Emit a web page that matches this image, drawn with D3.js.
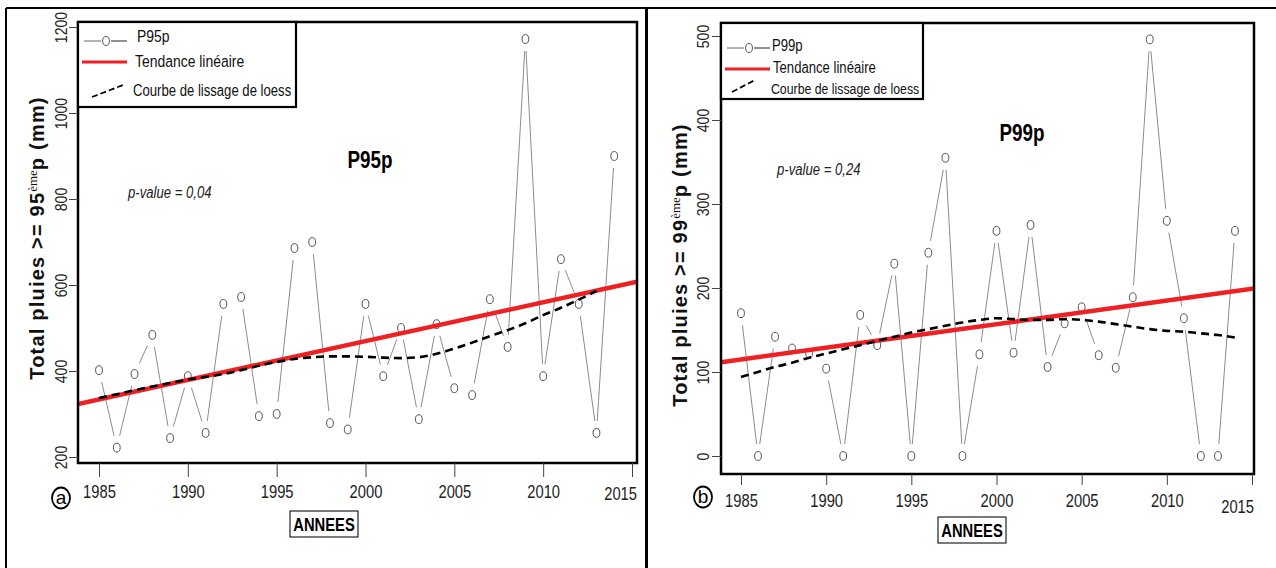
<!DOCTYPE html>
<html>
<head>
<meta charset="utf-8">
<script src="https://cdn.jsdelivr.net/npm/d3@7"></script>
<style>
  body { margin: 0; background: #fff; }
  svg { display: block; }
</style>
</head>
<body>
<svg id="chart" width="1276" height="568"></svg>
<script>
// annees 1985-2014
const years = [1985, 1986, 1987, 1988, 1989, 1990, 1991, 1992, 1993, 1994,
               1995, 1996, 1997, 1998, 1999, 2000, 2001, 2002, 2003, 2004,
               2005, 2006, 2007, 2008, 2009, 2010, 2011, 2012, 2013, 2014];

// total pluies >= 95eme percentile (mm)
const p95 = [402, 222, 393, 484, 244, 388, 256, 556, 572, 295,
             300, 686, 700, 279, 264, 556, 388, 500, 288, 509,
             360, 344, 567, 456, 1172, 388, 660, 556, 256, 900];

// total pluies >= 99eme percentile (mm)
const p99 = [170, 0, 142, 128, 122, 104, 0, 168, 132, 229,
             0, 242, 355, 0, 121, 268, 123, 275, 106, 158,
             177, 120, 105, 189, 496, 280, 164, 0, 0, 268];

// courbes loess (1985-2013 pour P95p, 1985-2014 pour P99p)
const loessP95 = [337, 346, 355, 364, 372, 380, 386, 393, 402, 412,
                  421, 428, 432, 434, 434, 433, 431, 430, 432, 440,
                  452, 466, 481, 495, 511, 530, 547, 566, 586];
const loessP99 = [94, 100, 106, 111, 117, 122, 127, 132, 137, 142,
                  147, 151, 155, 159, 162, 164, 163, 162, 162, 163,
                  162, 160, 157, 154, 151, 149, 148, 146, 144, 141];

// tendance lineaire, valeurs en 1985 et 2015
const trendYears = [1985, 2015];
const trendP95 = [334, 605];
const trendP99 = [115, 199];

const xTicks = [1985, 1990, 1995, 2000, 2005, 2010, 2015];
const yTicksP95 = [200, 400, 600, 800, 1000, 1200];
const yTicksP99 = [0, 100, 200, 300, 400, 500];

const svg = d3.select("#chart");
const sans = "'Liberation Sans',Arial,sans-serif";
const NARROW = 0.82; // pas de police etroite installee : on compresse

// texte "etroit" facon Arial Narrow
function narrowText(g, x, y, txt, size) {
    return g.append("text")
        .attr("transform", `translate(${x},${y}) scale(${NARROW},1)`)
        .style("font-family", sans)
        .style("font-size", size + "px")
        .text(txt);
}

// cadre general
svg.append("line").attr("x1", 6).attr("x2", 1276).attr("y1", 8).attr("y2", 8)
    .attr("stroke", "#000").attr("stroke-width", 2);
svg.append("line").attr("x1", 6).attr("x2", 6).attr("y1", 8).attr("y2", 568)
    .attr("stroke", "#000").attr("stroke-width", 2);
svg.append("line").attr("x1", 646.5).attr("x2", 646.5).attr("y1", 8).attr("y2", 568)
    .attr("stroke", "#000").attr("stroke-width", 3);

function drawPanel(p) {
    const x = d3.scaleLinear().domain([1985, 2015]).range(p.xRange);
    const y = d3.scaleLinear().domain(p.yDomain).range(p.yRange);
    const [bx0, by0, bx1, by1] = p.box;
    const g = svg.append("g");

    svg.append("clipPath").attr("id", "clip-" + p.id)
        .append("rect").attr("x", bx0).attr("y", by0)
        .attr("width", bx1 - bx0).attr("height", by1 - by0);

    // serie : lignes avec trous autour des points (type "b")
    const pts = p.values.map((v, i) => [x(years[i]), y(v)]);
    const gap = 12;
    const segs = [];
    for (let i = 1; i < pts.length; i++) {
        const [x1, y1] = pts[i - 1], [x2, y2] = pts[i];
        const len = Math.hypot(x2 - x1, y2 - y1);
        if (len <= 2 * gap) continue;
        const ux = (x2 - x1) / len, uy = (y2 - y1) / len;
        segs.push([x1 + ux * gap, y1 + uy * gap, x2 - ux * gap, y2 - uy * gap]);
    }
    g.selectAll(".seg")
        .data(segs)
        .enter()
        .append("line")
        .attr("x1", d => d[0]).attr("y1", d => d[1])
        .attr("x2", d => d[2]).attr("y2", d => d[3])
        .attr("stroke", "#8c8c8c")
        .attr("stroke-width", 1);

    g.selectAll(".pt")
        .data(pts)
        .enter()
        .append("ellipse")
        .attr("cx", d => d[0]).attr("cy", d => d[1])
        .attr("rx", 3.4).attr("ry", 4.4)
        .attr("fill", "#fff")
        .attr("stroke", "#555")
        .attr("stroke-width", 1);

    // tendance lineaire
    const trend = d3.scaleLinear().domain(trendYears).range(p.trend);
    const ta = x.invert(bx0), tb = x.invert(bx1);
    g.append("line")
        .attr("clip-path", `url(#clip-${p.id})`)
        .attr("x1", x(ta)).attr("y1", y(trend(ta)))
        .attr("x2", x(tb)).attr("y2", y(trend(tb)))
        .attr("stroke", "#ee2024")
        .attr("stroke-width", 4.5);

    // courbe loess
    g.append("path")
        .datum(p.loess.map((v, i) => [years[i], v]))
        .attr("d", d3.line().x(d => x(d[0])).y(d => y(d[1])).curve(d3.curveMonotoneX))
        .attr("fill", "none")
        .attr("stroke", "#000")
        .attr("stroke-width", 2.6)
        .attr("stroke-dasharray", "8,5");

    // boite
    g.append("rect")
        .attr("x", bx0).attr("y", by0)
        .attr("width", bx1 - bx0).attr("height", by1 - by0)
        .attr("fill", "none").attr("stroke", "#000").attr("stroke-width", 2.5);

    // axe x
    const xa = g.append("g")
        .attr("transform", `translate(0,${by1})`)
        .call(d3.axisBottom(x).tickValues(xTicks).tickSize(p.xTickLen).tickSizeOuter(0).tickFormat(d3.format("d")));
    xa.select(".domain").remove();
    xa.selectAll("line").attr("stroke", "#444");
    xa.selectAll("text")
        .attr("y", p.xLabelBase - by1).attr("dy", 0)
        .attr("transform", `scale(${NARROW},1)`)
        .attr("fill", "#222")
        .style("font-family", sans).style("font-size", "18px");
    // le dernier libelle est cale sur le bord droit
    xa.selectAll("text").filter(d => d === 2015)
        .attr("text-anchor", "end")
        .attr("x", p.lastLabel[0] / NARROW)
        .attr("y", p.xLabelBase - by1 + p.lastLabel[1]);

    // axe y
    const ya = g.append("g")
        .attr("transform", `translate(${bx0},0)`)
        .call(d3.axisLeft(y).tickValues(p.yTicks).tickSize(9).tickSizeOuter(0).tickFormat(d3.format("d")));
    ya.select(".domain").remove();
    ya.selectAll("line").attr("stroke", "#444");
    ya.selectAll("text")
        .attr("transform", "rotate(-90) scale(0.88,1)")
        .attr("x", 0).attr("y", -p.yLabelOff).attr("dy", 0)
        .attr("text-anchor", "middle")
        .attr("fill", "#222")
        .style("font-family", sans).style("font-size", "16px");

    // titre axe y
    const yt = g.append("text")
        .attr("transform", `translate(${p.yTitle[0]},${p.yTitle[1]}) rotate(-90)`)
        .attr("text-anchor", "middle")
        .attr("fill", "#111")
        .style("font-family", sans).style("font-size", "20px").style("font-weight", "bold")
        .style("letter-spacing", "1.2px");
    yt.append("tspan").text("Total pluies >= " + p.pct);
    yt.append("tspan").attr("dy", -7)
        .style("font-family", "'Liberation Serif','DejaVu Serif',serif")
        .style("font-weight", "normal").style("font-size", "13px")
        .style("letter-spacing", "0px").text("ème");
    yt.append("tspan").attr("dy", 7).text("p (mm)");

    // lettre entouree
    g.append("ellipse")
        .attr("cx", p.letterPos[0]).attr("cy", p.letterPos[1])
        .attr("rx", 9).attr("ry", 10.5)
        .attr("fill", "none").attr("stroke", "#000").attr("stroke-width", 1.8);
    g.append("text")
        .attr("x", p.letterPos[0]).attr("y", p.letterPos[1] + 6)
        .attr("text-anchor", "middle")
        .style("font-family", sans).style("font-size", "19px")
        .text(p.letter);

    // ANNEES
    const [ax, ay] = p.anneesPos;
    g.append("rect")
        .attr("x", ax).attr("y", ay).attr("width", 68).attr("height", 26)
        .attr("fill", "#fff").attr("stroke", "#222").attr("stroke-width", 1.2);
    narrowText(g, ax + 34, ay + 20, "ANNEES", 18)
        .attr("text-anchor", "middle")
        .style("font-weight", "bold");

    // titre et p-value
    narrowText(g, p.titlePos[0], p.titlePos[1], p.name, 23)
        .attr("text-anchor", "middle")
        .style("font-weight", "bold");
    narrowText(g, p.pvalPos[0], p.pvalPos[1], p.pval, 16)
        .attr("fill", "#222")
        .style("font-style", "italic");

    // legende
    const L = p.legend;
    g.append("rect")
        .attr("x", bx0).attr("y", by0).attr("width", L.w).attr("height", L.h)
        .attr("fill", "#fff").attr("stroke", "#000").attr("stroke-width", 2.2);
    const lx = bx0;
    g.append("line").attr("x1", lx + 6).attr("x2", lx + 23).attr("y1", L.y1).attr("y2", L.y1)
        .attr("stroke", "#666").attr("stroke-width", 1);
    g.append("line").attr("x1", lx + 33).attr("x2", lx + 49).attr("y1", L.y1).attr("y2", L.y1)
        .attr("stroke", "#222").attr("stroke-width", 1);
    g.append("ellipse").attr("cx", lx + 28).attr("cy", L.y1).attr("rx", 3.4).attr("ry", 4.4)
        .attr("fill", "#fff").attr("stroke", "#555");
    g.append("line").attr("x1", lx + 4).attr("x2", lx + 49).attr("y1", L.y2).attr("y2", L.y2)
        .attr("stroke", "#ee2024").attr("stroke-width", 3);
    g.append("line").attr("x1", lx + L.dash[0]).attr("y1", L.dash[1])
        .attr("x2", lx + L.dash[2]).attr("y2", L.dash[3])
        .attr("stroke", "#000").attr("stroke-width", 1.8).attr("stroke-dasharray", "6,3");
    const lt = [[p.name, L.t1, L.f1], ["Tendance linéaire", L.t2, L.f2], ["Courbe de lissage de loess", L.t3, L.f3]];
    lt.forEach(d => narrowText(g, lx + d[1][0], d[1][1], d[0], d[2]).attr("fill", "#111"));
}

drawPanel({
    id: "a", name: "P95p", pct: "95", letter: "a", pval: "p-value = 0,04",
    values: p95, loess: loessP95, trend: trendP95, yTicks: yTicksP95,
    xRange: [99, 632], yDomain: [200, 1200], yRange: [457, 27],
    box: [78, 22, 637, 463], xTickLen: 14, xLabelBase: 498, yLabelOff: 11,
    lastLabel: [4.5, 2],
    yTitle: [44, 238], letterPos: [61, 498], anneesPos: [290, 511],
    titlePos: [370, 168], pvalPos: [128, 198],
    legend: { w: 218, h: 85, y1: 41, y2: 62, dash: [14, 97, 45, 85],
              t1: [59, 42], t2: [57, 67], t3: [55, 96], f1: 17, f2: 17, f3: 16 }
});

drawPanel({
    id: "b", name: "P99p", pct: "99", letter: "b", pval: "p-value = 0,24",
    values: p99, loess: loessP99, trend: trendP99, yTicks: yTicksP99,
    xRange: [741, 1252], yDomain: [0, 500], yRange: [456, 36],
    box: [721, 23, 1254, 474], xTickLen: 11, xLabelBase: 507, yLabelOff: 12.5,
    lastLabel: [1.5, 6],
    yTitle: [687, 265], letterPos: [703, 497], anneesPos: [938, 517],
    titlePos: [1022, 141], pvalPos: [777, 175],
    legend: { w: 202, h: 76, y1: 48, y2: 69, dash: [11, 92, 34, 80],
              t1: [51, 51], t2: [52, 73], t3: [50, 94], f1: 16, f2: 16, f3: 15 }
});
</script>
</body>
</html>
